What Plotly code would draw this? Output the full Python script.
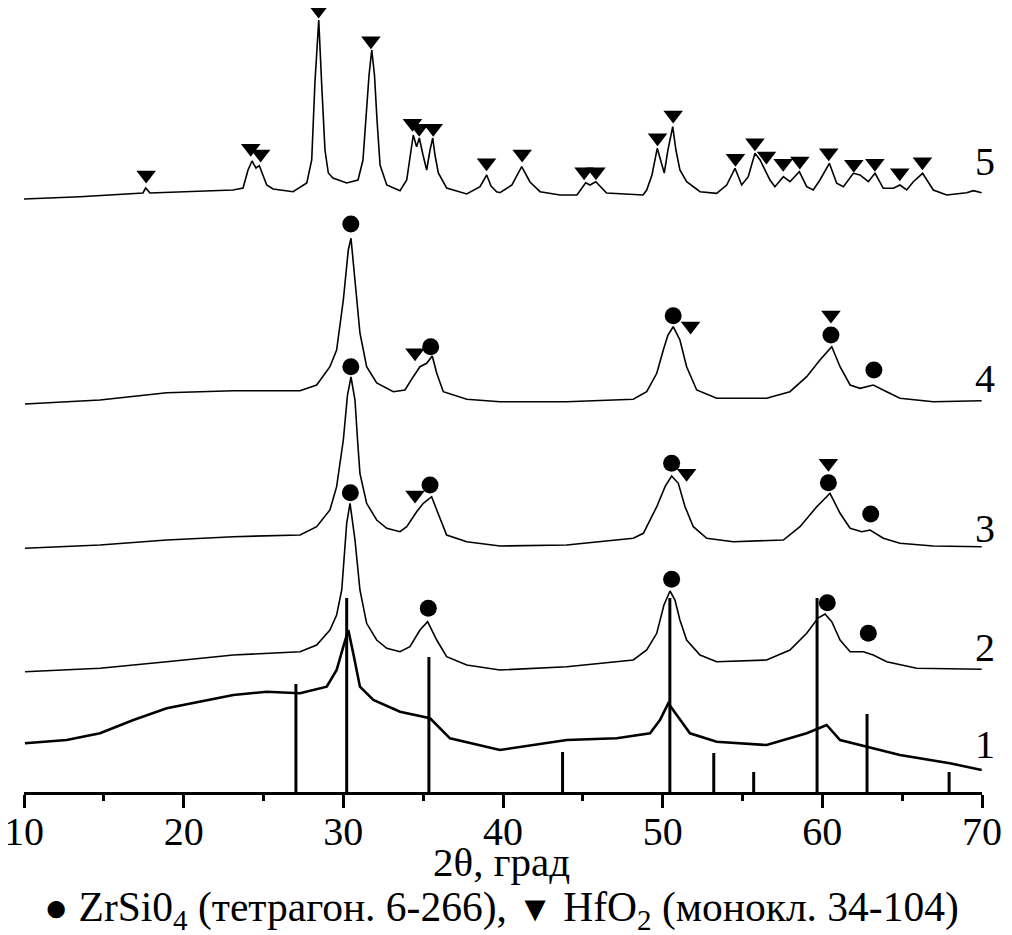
import plotly.graph_objects as go

# ---------------- data ----------------
# Intensity in arbitrary units, curves offset vertically as in the figure
c1_x = [10.06, 12.67, 14.76, 16.85, 18.94, 21.02, 23.11, 25.2, 27.29, 28.96, 29.58, 30.0, 30.31, 30.62,
        31.04, 31.88, 33.55, 35.43, 36.68, 39.81, 41.9, 43.99, 47.12, 49.21, 49.83, 50.35, 50.88, 51.71,
        53.38, 56.51, 59.02, 60.27, 61.11, 62.78, 64.86, 67.99, 69.98]
c1_y = [48.7, 52, 58.7, 72, 83.7, 90.3, 97, 100.3, 98.7, 105.3, 122, 145.3, 162, 138.7,
        105.3, 92, 80.3, 73.7, 53.7, 42, 47, 52, 53.7, 58.7, 72, 88.7, 77, 58.7,
        50.3, 47, 58.7, 67, 52, 45.3, 37, 28.7, 22]

c2_x = [10.06, 14.76, 18.94, 23.11, 27.29, 28.33, 29.16, 29.58, 29.9, 30.21, 30.42, 30.73, 31.04, 31.46,
        32.09, 32.72, 33.55, 34.17, 34.8, 35.28, 35.85, 36.47, 37.73, 39.81, 43.99, 48.16, 49.0, 49.63,
        50.08, 50.46, 50.77, 51.08, 51.5, 52.34, 53.38, 56.51, 57.97, 59.02, 59.73, 60.17, 60.6, 61.11,
        61.74, 62.57, 63.19, 64.03, 65.91, 69.98]
c2_y = [120.3, 123.7, 130.3, 137, 140.3, 147, 162, 177, 202, 268.7, 288.7, 252, 202, 168.7,
        152, 143.7, 140.3, 145.3, 162, 170.3, 152, 135.3, 127, 122, 125.3, 132, 142, 158.7,
        187, 201, 192, 172, 152, 137, 130.3, 132, 142, 158.7, 174, 178, 170, 152,
        140.3, 140.3, 137, 130.3, 123.7, 122.7]

c3_x = [10.06, 14.76, 18.94, 23.11, 27.29, 28.33, 29.16, 29.58, 30.0, 30.26, 30.48, 30.73, 30.89, 31.04,
        31.46, 32.09, 32.72, 33.55, 33.97, 34.59, 35.01, 35.53, 35.85, 36.47, 37.73, 39.81, 43.99, 48.16,
        48.79, 49.63, 50.15, 50.56, 50.98, 51.4, 51.92, 52.76, 54.42, 57.56, 58.6, 59.65, 60.48, 61.11,
        61.74, 62.47, 62.99, 63.82, 64.86, 66.95, 69.98]
c3_y = [243.7, 247, 252, 255.3, 257, 265.3, 282, 305.3, 352, 397, 415, 392, 352, 318.7,
        288.7, 272, 263.7, 260.3, 265.3, 280.3, 288.7, 295.3, 282, 257, 250.3, 246, 247, 253.7,
        258.7, 285.3, 305.3, 316, 308.7, 285.3, 265.3, 253.7, 250.3, 252, 265.3, 285.3, 298.7, 278.7,
        263.7, 260.3, 262, 253.7, 248.7, 246, 245.3]

c4_x = [10.06, 14.76, 18.94, 23.11, 27.29, 28.33, 29.16, 29.58, 30.0, 30.31, 30.48, 30.73, 31.04, 31.46,
        32.09, 33.13, 33.86, 34.38, 34.8, 35.22, 35.57, 35.85, 36.26, 37.73, 39.81, 43.99, 48.16, 49.0,
        49.63, 50.04, 50.33, 50.66, 51.08, 51.5, 52.13, 53.38, 56.51, 57.97, 59.02, 59.85, 60.59, 61.11,
        61.74, 62.36, 63.19, 64.03, 64.86, 66.95, 69.98]
c4_y = [388, 392, 399.3, 401.3, 401.3, 407, 425.3, 442, 492, 542, 553.7, 509, 459, 425.3,
        409, 400.3, 402, 415.3, 425.3, 428.7, 436, 418.7, 400.3, 392.7, 390.3, 390.3, 392.7, 400.3,
        418.7, 442, 457, 465.3, 452, 425.3, 402, 393.7, 393.7, 400.3, 415.3, 432, 445.3, 425.3,
        407, 403.7, 407, 400.3, 393.7, 390.3, 391.3]

c5_x = [10.0, 13.51, 17.45, 17.62, 17.89, 23.09, 23.72, 24.03, 24.28, 24.53, 24.74, 24.97, 25.2, 25.6,
        26.85, 27.71, 28.02, 28.22, 28.46, 28.64, 28.85, 29.06, 29.35, 30.21, 30.92, 31.23, 31.46, 31.61,
        31.78, 31.95, 32.11, 32.3, 32.72, 33.55, 33.97, 34.17, 34.38, 34.59, 34.76, 34.99, 35.22, 35.43,
        35.6, 35.74, 35.95, 36.47, 37.73, 38.56, 38.98, 39.25, 39.6, 39.81, 40.56, 41.17, 41.69, 42.32,
        43.57, 44.63, 45.18, 45.45, 45.81, 46.49, 48.77, 49.0, 49.33, 49.66, 49.89, 50.1, 50.33, 50.63,
        50.83, 51.08, 51.5, 52.34, 53.38, 54.01, 54.53, 54.95, 55.36, 55.78, 56.1, 56.41, 56.72, 57.03,
        57.56, 57.97, 58.56, 59.02, 59.43, 59.85, 60.44, 60.9, 61.32, 61.94, 62.36, 62.88, 63.3, 63.82,
        64.45, 64.86, 65.28, 65.7, 66.28, 66.95, 67.79, 69.04, 69.46, 69.98]
c5_y = [593, 595.3, 599, 604, 599, 602, 604, 622, 631, 624, 626.3, 617, 607, 603,
        600.3, 609, 632, 709, 772, 709, 642, 619, 614, 609, 612, 632, 682, 717,
        742, 717, 672, 627, 607, 601.3, 612, 632, 657, 645.3, 654, 637, 622, 642,
        654, 637, 619, 604, 598, 605.3, 617, 606, 600.3, 599.3, 607, 625.3, 610, 600.3,
        597, 597, 609.3, 607, 610.3, 599, 597, 602, 617, 643.7, 632, 619, 642, 665.3,
        642, 622, 610.3, 600.3, 598.7, 607, 623.7, 607, 615.3, 638.7, 632, 622, 612, 605.3,
        615.3, 610.3, 620.3, 605.3, 602, 612, 628.7, 608.7, 605.3, 618.7, 617, 610.3, 618.7, 603.7,
        603.7, 607, 602, 610.3, 618.7, 602, 597, 599.3, 601.3, 599.3]

# ZrSiO4 (circle) and HfO2 (triangle) phase marks
zr_x = [30.47, 35.47, 50.66, 60.54, 63.23,
        30.47, 35.43, 50.56, 60.38, 63.03,
        30.44, 35.32, 50.56, 60.31, 62.88]
zr_y = [568, 445.3, 476.3, 457, 422,
        425.3, 307, 328.7, 309.3, 278,
        299.3, 183.7, 212.7, 189.3, 158.7]
hf_x = [17.65, 24.2, 24.82, 28.45, 31.73, 34.33, 34.75, 35.63, 38.97, 41.2, 45.08, 45.82, 49.68, 50.66,
        54.56, 55.78, 56.5, 57.55, 58.59, 60.4, 61.97, 63.29, 64.85, 66.27,
        34.49, 51.75, 60.54,
        34.49, 51.5, 60.38]
hf_y = [617, 643.7, 638, 782, 751.3, 668.7, 663.7, 663.7, 629.3, 638, 620.3, 620.3, 654.3, 677,
        633.7, 649.3, 636, 628.7, 631, 639.3, 627.7, 628.7, 619.3, 630.3,
        439.3, 466, 477,
        297, 318.7, 328.7]

# reference line pattern (stick diagram)
ref_x = [27.03, 30.21, 35.36, 43.73, 50.45, 53.2, 55.7, 59.67, 62.8, 67.94]
ref_h = [108, 194, 135, 40, 194, 39, 20, 194, 78, 20]

curve_labels = ["1", "2", "3", "4", "5"]
curve_label_y = [48, 145, 264, 414, 631]

x_ticks = [10, 20, 30, 40, 50, 60, 70]
x_title = "2θ, град"
legend_text = ('<span style="font-size:40px">●</span> ZrSi0<sub>4</sub> (тетрагон. 6-266), '
               '<span style="font-size:36px">▼</span> HfO<sub>2</sub> (монокл. 34-104)')

# ---------------- figure ----------------
# the page body adds an 8 px margin, so the figure is 8 px smaller than the window
FONT = "Liberation Serif, Times New Roman, serif"
Y_MAX = 784
fig = go.Figure()

# stick pattern
sx, sy = [], []
for x, h in zip(ref_x, ref_h):
    sx += [x, x, None]
    sy += [0, h, None]
fig.add_trace(go.Scatter(x=sx, y=sy, mode="lines", line=dict(color="black", width=3),
                         hoverinfo="skip", showlegend=False))

widths = [2.6, 1.6, 1.6, 1.6, 1.6]
for (cx, cy), w in zip([(c1_x, c1_y), (c2_x, c2_y), (c3_x, c3_y), (c4_x, c4_y), (c5_x, c5_y)], widths):
    fig.add_trace(go.Scatter(x=cx, y=cy, mode="lines", line=dict(color="black", width=w),
                             showlegend=False))

fig.add_trace(go.Scatter(x=zr_x, y=zr_y, mode="markers", cliponaxis=False,
                         marker=dict(symbol="circle", size=17, color="black"), showlegend=False))
fig.add_trace(go.Scatter(x=hf_x, y=hf_y, mode="markers", cliponaxis=False,
                         marker=dict(symbol="triangle-down", size=17, color="black"), showlegend=False))

for t, y in zip(curve_labels, curve_label_y):
    fig.add_annotation(x=1.0031, y=y / Y_MAX, xref="paper", yref="paper", text=t, showarrow=False,
                       xanchor="center", yanchor="middle",
                       font=dict(family=FONT, size=40, color="black"))

fig.add_annotation(x=0.4985, y=-0.089, xref="paper", yref="paper", text=x_title, showarrow=False,
                   xanchor="center", yanchor="middle", font=dict(family=FONT, size=41, color="black"))
fig.add_annotation(x=0.4985, y=-0.151, xref="paper", yref="paper", text=legend_text, showarrow=False,
                   xanchor="center", yanchor="middle", font=dict(family=FONT, size=41.5, color="black"))

fig.update_layout(
    width=1004, height=927,
    margin=dict(l=16, r=30, t=0, b=143, autoexpand=False),
    paper_bgcolor="white", plot_bgcolor="white",
    xaxis=dict(range=[10, 70], tickvals=x_ticks, ticks="outside", ticklen=13, tickwidth=3,
               tickcolor="black", showline=True, linewidth=3, linecolor="black",
               showgrid=False, zeroline=False, automargin=False,
               ticklabeloverflow="allow", ticklabelstandoff=-11,
               tickfont=dict(family=FONT, size=40, color="black"),
               minor=dict(tickvals=[15, 25, 35, 45, 55, 65], ticks="outside", ticklen=6,
                          tickwidth=3, tickcolor="black", showgrid=False)),
    yaxis=dict(range=[0, Y_MAX], visible=False, showgrid=False, zeroline=False, automargin=False),
)

fig.write_html("out.html")
